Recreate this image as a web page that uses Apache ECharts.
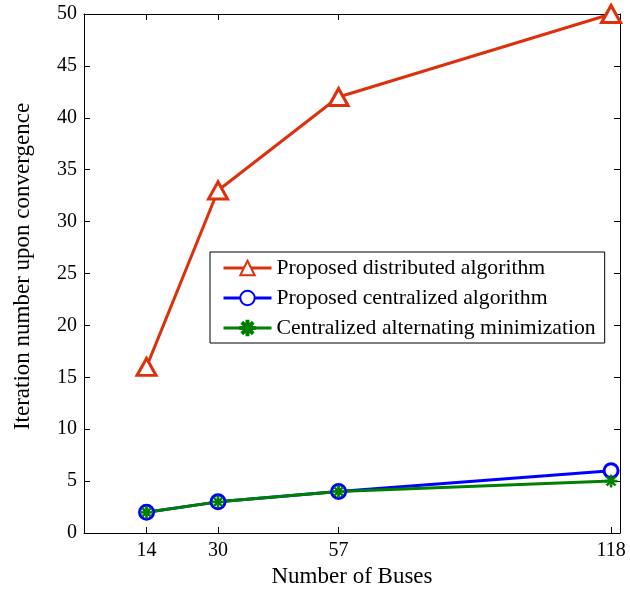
<!DOCTYPE html>
<html>
<head>
<meta charset="utf-8">
<script src="https://cdn.jsdelivr.net/npm/echarts@6/dist/echarts.min.js"></script>
<style>
html, body { margin: 0; padding: 0; background: #fff; }
#chart { width: 630px; height: 590px; }
</style>
</head>
<body>
<div id="chart"></div>
<script>
var buses = [14, 30, 57, 118];
var distributed = [16, 33, 42, 50];
var centralized = [2, 3, 4, 6];
var alternating = [2, 3, 4, 5];
var seriesNames = ['Proposed distributed algorithm', 'Proposed centralized algorithm', 'Centralized alternating minimization'];

var FONT = '"Liberation Serif", "Times New Roman", serif';
// asterisk marker built from 4 bars
var asterisk = 'path://M0,4.3L10,4.3L10,5.7L0,5.7Z M4.3,0L5.7,0L5.7,10L4.3,10Z M1,2L2,1L9,8L8,9Z M8,1L9,2L2,9L1,8Z';

function pairs(ys) {
	var out = [];
	for (var i = 0; i < buses.length; i++) {
		out.push([buses[i], ys[i]]);
	}
	return out;
}

var myChart = echarts.init(document.getElementById('chart'));

option = {
	animation: false,
	backgroundColor: '#fff',
	grid: {left: 84, right: 10, top: 14, bottom: 57, outerBoundsMode: 'none', containLabel: false},
	legend: {
		orient: 'vertical',
		left: 210,
		top: 252,
		padding: [5, 9, 4, 12],
		itemGap: 8,
		itemWidth: 48,
		itemHeight: 18,
		backgroundColor: '#fff',
		borderColor: '#000',
		borderWidth: 1,
		lineStyle: {width: 3},
		textStyle: {fontFamily: FONT, fontSize: 21.7, color: '#000'},
		data: seriesNames
	},
	xAxis: [{
		type: 'value',
		min: 0,
		max: 120,
		name: 'Number of Buses',
		nameLocation: 'middle',
		nameGap: 24,
		nameTextStyle: {fontFamily: FONT, fontSize: 23, color: '#000'},
		axisLine: {onZero: false, lineStyle: {color: '#000', width: 1}},
		axisTick: {inside: true, length: 6, customValues: buses, lineStyle: {color: '#000'}},
		axisLabel: {customValues: buses, fontFamily: FONT, fontSize: 20, color: '#000', margin: 8},
		splitLine: {show: false}
	}, {
		type: 'value',
		position: 'top',
		min: 0,
		max: 120,
		axisLine: {show: true, onZero: false, lineStyle: {color: '#000', width: 1}},
		axisTick: {inside: true, length: 6, customValues: buses, lineStyle: {color: '#000'}},
		axisLabel: {show: false},
		splitLine: {show: false}
	}],
	yAxis: [{
		type: 'value',
		min: 0,
		max: 50,
		interval: 5,
		name: 'Iteration number upon convergence',
		nameLocation: 'middle',
		nameGap: 50,
		nameTextStyle: {fontFamily: FONT, fontSize: 23, color: '#000', padding: [0, 0, 0, 14]},
		axisLine: {show: true, onZero: false, lineStyle: {color: '#000', width: 1}},
		axisTick: {inside: true, length: 6, lineStyle: {color: '#000'}},
		axisLabel: {fontFamily: FONT, fontSize: 20, color: '#000', margin: 7},
		splitLine: {show: false}
	}, {
		type: 'value',
		position: 'right',
		min: 0,
		max: 50,
		interval: 5,
		axisLine: {show: true, onZero: false, lineStyle: {color: '#000', width: 1}},
		axisTick: {inside: true, length: 6, lineStyle: {color: '#000'}},
		axisLabel: {show: false},
		splitLine: {show: false}
	}],
	series: [{
		name: seriesNames[0],
		type: 'line',
		data: pairs(distributed),
		clip: false,
		symbol: 'triangle',
		symbolSize: [19, 17],
		lineStyle: {color: '#dc310c', width: 3},
		itemStyle: {color: '#fff', borderColor: '#dc310c', borderWidth: 3}
	}, {
		name: seriesNames[1],
		type: 'line',
		data: pairs(centralized),
		clip: false,
		symbol: 'circle',
		symbolSize: 14,
		lineStyle: {color: '#0000ff', width: 3},
		itemStyle: {color: '#fff', borderColor: '#0000ff', borderWidth: 3}
	}, {
		name: seriesNames[2],
		type: 'line',
		data: pairs(alternating),
		clip: false,
		symbol: asterisk,
		symbolSize: 12,
		lineStyle: {color: '#008000', width: 3},
		itemStyle: {color: '#008000', borderColor: '#008000', borderWidth: 1}
	}]
};

myChart.setOption(option);
</script>
</body>
</html>
